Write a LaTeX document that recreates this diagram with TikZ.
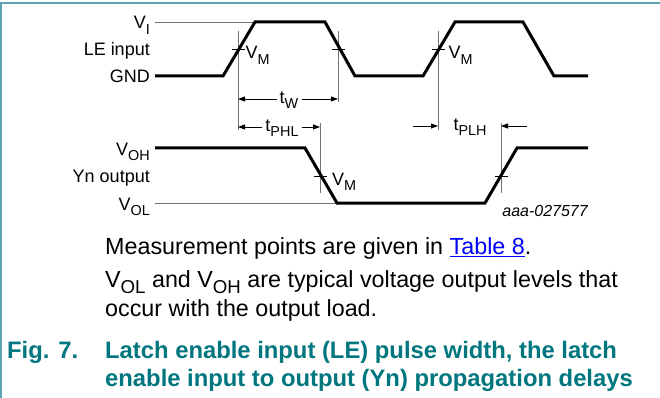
\documentclass[tikz,border=0pt]{standalone}
\usepackage{fontspec}
\setmainfont{Liberation Sans}
\usetikzlibrary{arrows.meta}
\definecolor{capt}{RGB}{0,118,126}
\definecolor{framec}{RGB}{90,165,175}
\definecolor{refgray}{RGB}{115,115,115}
\definecolor{linkblue}{RGB}{0,0,255}
\newcommand\sbx[1]{\raisebox{-0.3em}{\scalebox{0.8}{#1}}}
\begin{document}
\begin{tikzpicture}[x=1pt,y=-1pt,
  wave/.style={line width=3pt, line join=miter, line cap=butt},
  refl/.style={draw=refgray, line width=0.9pt},
  dimarrow/.style={line width=0.8pt, -{Triangle[length=7pt,width=5pt]}},
  lbl/.style={font=\fontsize{18}{20}\selectfont, inner sep=0pt, anchor=base east},
  vmlbl/.style={font=\fontsize{18}{20}\selectfont, inner sep=0pt, anchor=base west},
  tlbl/.style={font=\fontsize{18}{20}\selectfont, inner sep=0pt, anchor=base},
  tickm/.style={line width=0.8pt},
  body/.style={font=\fontsize{23.3}{26}\selectfont, inner sep=0pt, anchor=base west},
  captf/.style={font=\fontsize{23.8}{27}\selectfont\bfseries, text=capt, inner sep=0pt, anchor=base west}
]
\useasboundingbox (0,0) rectangle (660,398);
\fill[white] (0,0) rectangle (660,398);
% frame
\draw[framec, line width=1.3pt] (0,3) -- (660,3);
\draw[framec, line width=1.6pt] (0.8,3) -- (0.8,398);

% left labels
\node[lbl] (vi) at (150,29) {V\sbx{I}};
\node[lbl] (lein) at (150,56) {LE input};
\node[lbl] (gnd) at (150,82.5) {GND};
\node[lbl] (voh) at (150,155) {V\sbx{OH}};
\node[lbl] (ynout) at (150,182.5) {Yn output};
\node[lbl] (vol) at (150,210) {V\sbx{OL}};

% reference level lines
\coordinate (vie) at (255,22);
\coordinate (vole) at (337,203);
\draw[refl] (155,22) -- (vie);
\draw[refl] (155,203) -- (vole);

% vertical measurement lines
\coordinate (l1t) at (238,31);  \coordinate (l1b) at (238,130);
\coordinate (l2t) at (338,31);  \coordinate (l2b) at (338,102);
\coordinate (l3t) at (438,31);  \coordinate (l3b) at (438,130);
\coordinate (l5t) at (320,123); \coordinate (l5b) at (320,193);
\coordinate (l4t) at (501,123); \coordinate (l4b) at (501,193);
\foreach \a in {l1,l2,l3,l4,l5} \draw[refl] (\a t) -- (\a b);

% waveforms
\draw[wave] (155,76) -- (223,76) -- (255,22) -- (325,22) -- (355,76) -- (423,76)
  -- (455,22) -- (523,22) -- (554,76) -- (588,76);
\draw[wave] (155,148) -- (305,148) -- (337,203) -- (485,203) -- (517,148) -- (588,148);

% VM ticks
\draw[tickm] (232,49) -- (245,49);
\draw[tickm] (332,49) -- (345,49);
\draw[tickm] (432,49) -- (445,49);
\draw[tickm] (314,176) -- (327,176);
\draw[tickm] (495,176) -- (508,176);

% VM labels
\node[vmlbl] (vm1) at (245.5,59) {V\sbx{M}};
\node[vmlbl] (vm2) at (448.5,59) {V\sbx{M}};
\node[vmlbl] (vm3) at (332,185) {V\sbx{M}};

% tW
\node[tlbl] (tw) at (289,103.5) {t\sbx{W}};
\coordinate (tw1) at (238,99); \coordinate (tw2) at (338,99);
\draw[dimarrow] ([xshift=-3pt]tw.west |- tw1) -- (tw1);
\draw[dimarrow] ([xshift=3pt]tw.east |- tw2) -- (tw2);

% tPHL
\node[tlbl] (tphl) at (282,131.5) {t\sbx{PHL}};
\coordinate (tp1) at (238,127); \coordinate (tp2) at (320,127);
\draw[dimarrow] ([xshift=-3pt]tphl.west |- tp1) -- (tp1);
\draw[dimarrow] ([xshift=3pt]tphl.east |- tp2) -- (tp2);

% tPLH
\node[tlbl] (tplh) at (470,130.5) {t\sbx{PLH}};
\coordinate (tq1s) at (413,126); \coordinate (tq1) at (438,126);
\coordinate (tq2s) at (527,126); \coordinate (tq2) at (501,126);
\draw[dimarrow] (tq1s) -- (tq1);
\draw[dimarrow] (tq2s) -- (tq2);

% figure id
\node[font=\fontsize{16}{18}\selectfont\itshape, inner sep=0pt, anchor=base east] (fid) at (588,216.7) {aaa-027577};

% notes
\node[body] (n1) at (105,254.7) {Measurement points are given in \textcolor{linkblue}{\underline{Table 8}}.};
\node[body] (n2) at (105,287) {V\sbx{OL} and V\sbx{OH} are typical voltage output levels that};
\node[body] (n3) at (105,316) {occur with the output load.};

% caption
\node[captf] (fig) at (7,358.7) {Fig. 7.};
\node[captf] (c1) at (105,358.7) {Latch enable input (LE) pulse width, the latch};
\node[captf] (c2) at (105,386) {enable input to output (Yn) propagation delays};
\end{tikzpicture}
\end{document}
